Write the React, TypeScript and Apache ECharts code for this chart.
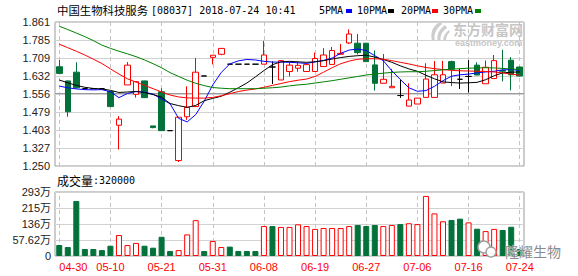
import React, { useEffect, useRef } from "react";
import * as echarts from "echarts";

const dates = [
  "04-30", "05-02", "05-03", "05-04", "05-07", "05-08", "05-10", "05-11", "05-14", "05-15",
  "05-16", "05-18", "05-21", "05-23", "05-24", "05-25", "05-28", "05-29", "05-31", "06-01",
  "06-04", "06-05", "06-06", "06-07", "06-08", "06-11", "06-12", "06-13", "06-14", "06-15",
  "06-19", "06-20", "06-21", "06-22", "06-25", "06-26", "06-27", "06-28", "06-29", "07-03",
  "07-04", "07-05", "07-06", "07-09", "07-10", "07-11", "07-12", "07-13", "07-16", "07-17",
  "07-18", "07-19", "07-20", "07-23", "07-24",
];

const opens = [
  1.671, 1.611, 1.648, 1.578, 1.578, 1.578, 1.566, 1.423, 1.594, 1.554,
  1.611, 1.420, 1.565, 1.400, 1.273, 1.459, 1.502, 1.632, 1.711, 1.724,
  1.682, 1.682, 1.682, 1.682, 1.682, 1.670, 1.615, 1.651, 1.665, 1.651,
  1.651, 1.672, 1.681, 1.724, 1.772, 1.771, 1.771, 1.679, 1.601, 1.582,
  1.549, 1.504, 1.513, 1.541, 1.541, 1.602, 1.693, 1.618, 1.630, 1.678,
  1.599, 1.621, 1.655, 1.699, 1.670,
];
const closes = [
  1.643, 1.480, 1.582, 1.578, 1.578, 1.578, 1.502, 1.449, 1.678, 1.608,
  1.540, 1.413, 1.400, 1.400, 1.457, 1.499, 1.648, 1.632, 1.720, 1.749,
  1.682, 1.682, 1.682, 1.682, 1.721, 1.670, 1.697, 1.678, 1.677, 1.680,
  1.706, 1.721, 1.740, 1.728, 1.810, 1.731, 1.693, 1.601, 1.618, 1.588,
  1.549, 1.530, 1.538, 1.619, 1.637, 1.637, 1.661, 1.618, 1.630, 1.636,
  1.669, 1.697, 1.652, 1.637, 1.632,
];
const lows = [
  1.643, 1.459, 1.578, 1.578, 1.578, 1.578, 1.502, 1.320, 1.594, 1.540,
  1.540, 1.410, 1.400, 1.400, 1.267, 1.446, 1.500, 1.632, 1.681, 1.720,
  1.682, 1.682, 1.682, 1.682, 1.682, 1.598, 1.615, 1.630, 1.650, 1.651,
  1.651, 1.672, 1.681, 1.724, 1.768, 1.723, 1.693, 1.570, 1.601, 1.582,
  1.539, 1.504, 1.513, 1.541, 1.541, 1.602, 1.589, 1.577, 1.562, 1.636,
  1.599, 1.621, 1.609, 1.571, 1.630,
];
const highs = [
  1.700, 1.612, 1.690, 1.578, 1.578, 1.578, 1.568, 1.462, 1.691, 1.610,
  1.612, 1.420, 1.580, 1.400, 1.457, 1.588, 1.708, 1.632, 1.720, 1.749,
  1.682, 1.682, 1.682, 1.682, 1.781, 1.694, 1.699, 1.692, 1.690, 1.685,
  1.731, 1.750, 1.755, 1.768, 1.830, 1.810, 1.772, 1.740, 1.725, 1.662,
  1.617, 1.601, 1.538, 1.686, 1.695, 1.696, 1.697, 1.662, 1.699, 1.690,
  1.698, 1.721, 1.743, 1.712, 1.672,
];

const ma5 = [
  1.589, 1.582, 1.577, 1.574, 1.573, 1.574, 1.565, 1.540, 1.558, 1.566,
  1.563, 1.555, 1.534, 1.514, 1.452, 1.437, 1.468, 1.525, 1.594, 1.647,
  1.683, 1.696, 1.702, 1.700, 1.694, 1.691, 1.691, 1.690, 1.688, 1.685,
  1.692, 1.698, 1.708, 1.728, 1.742, 1.746, 1.740, 1.718, 1.697, 1.654,
  1.617, 1.582, 1.567, 1.570, 1.588, 1.612, 1.631, 1.637, 1.640, 1.645,
  1.649, 1.652, 1.658, 1.659, 1.656,
];
const ma10 = [
  1.615, 1.603, 1.592, 1.584, 1.579, 1.577, 1.571, 1.562, 1.564, 1.566,
  1.562, 1.553, 1.542, 1.515, 1.506, 1.499, 1.507, 1.527, 1.537, 1.546,
  1.563, 1.582, 1.602, 1.628, 1.655, 1.680, 1.692, 1.694, 1.692, 1.690,
  1.692, 1.697, 1.704, 1.710, 1.715, 1.718, 1.720, 1.712, 1.702, 1.690,
  1.675, 1.662, 1.652, 1.635, 1.620, 1.607, 1.604, 1.602, 1.603, 1.605,
  1.616, 1.633, 1.645, 1.648, 1.649,
];
const ma20 = [
  1.767, 1.752, 1.737, 1.721, 1.703, 1.685, 1.662, 1.640, 1.620, 1.606,
  1.592, 1.578, 1.564, 1.551, 1.543, 1.539, 1.538, 1.538, 1.541, 1.548,
  1.557, 1.566, 1.572, 1.577, 1.584, 1.592, 1.600, 1.608, 1.614, 1.619,
  1.630, 1.648, 1.667, 1.684, 1.695, 1.703, 1.705, 1.705, 1.703, 1.697,
  1.690, 1.683, 1.675, 1.668, 1.663, 1.659, 1.656, 1.654, 1.653, 1.652,
  1.651, 1.649, 1.645, 1.640, 1.635,
];
const ma30 = [
  1.843, 1.829, 1.814, 1.799, 1.782, 1.763, 1.749, 1.737, 1.726, 1.714,
  1.700, 1.684, 1.667, 1.646, 1.630, 1.614, 1.601, 1.591, 1.583, 1.580,
  1.578, 1.578, 1.578, 1.578, 1.580, 1.582, 1.585, 1.590, 1.594, 1.597,
  1.602, 1.607, 1.612, 1.618, 1.624, 1.630, 1.636, 1.640, 1.644, 1.647,
  1.649, 1.650, 1.650, 1.652, 1.655, 1.658, 1.661, 1.663, 1.665, 1.666,
  1.667, 1.666, 1.664, 1.662, 1.659,
];

// volume in 万
const volumes = [
  50.4, 41, 252, 32, 32, 27, 47, 96, 50, 60,
  47, 38, 88, 23, 27, 99, 164, 23, 69, 41,
  43, 23, 23, 23, 137, 137, 133, 133, 145, 137,
  124, 128, 128, 128, 137, 142, 137, 142, 137, 142,
  146, 150, 146, 275, 195, 159, 165, 171, 154, 125,
  114, 124, 119, 134, 32,
];

const priceMin = 1.25;
const priceMax = 1.861;
const priceTicks = ["1.250", "1.327", "1.403", "1.479", "1.556", "1.632", "1.709", "1.785", "1.861"];
const volMax = 293;
const volTicks = ["0", "57.62万", "136万", "215万", "293万"];
const refPrice = 1.556;
const labelDates = ["04-30", "05-10", "05-21", "05-31", "06-08", "06-19", "06-27", "07-06", "07-16", "07-24"];

const titleName = "中国生物科技服务";
const titleInfo = "[08037] 2018-07-24 10:41";
const legendNames = ["5PMA", "10PMA", "20PMA", "30PMA"];
const volumeText = "成交量";
const volumeValue = ":320000";

const RED = "#ff0000";
const GREEN = "#03723a";
const maColors = ["#0000ff", "#000000", "#ff0000", "#008000"];

const LOGO_D =
  "M12 0 C5 3 1 9 3 18 L6 18 C5 11 8 6 14 2 Z M17 3 C11 7 8 12 9 18 L12 18 C12 13 14 9 19 6 Z M21 8 C17 11 15 14 15 18 L18 18 C18 15 19 12 22 10 Z";

let registered = false;
function ensureShape() {
  if (registered) return;
  registered = true;
  echarts.graphic.registerShape("emlogo", echarts.graphic.extendPath(LOGO_D, {}) as any);
}

export default function App() {
  const ref = useRef<HTMLDivElement>(null);

  useEffect(() => {
    if (!ref.current) return;
    ensureShape();
    const chart = echarts.init(ref.current, undefined, { renderer: "svg" });

    const candleData = dates.map((_, i) => {
      const o = opens[i], c = closes[i];
      const item: any = { value: [o, c, lows[i], highs[i]] };
      if (o === c) {
        item.itemStyle = { color: "#000", color0: "#000", borderColor: "#000", borderColor0: "#000" };
      }
      return item;
    });

    const volData = volumes.map((v, i) => {
      const o = opens[i], c = closes[i];
      let up: boolean;
      if (c > o) up = true;
      else if (c < o) up = false;
      else up = i > 0 ? c > closes[i - 1] : false;
      return {
        value: v,
        itemStyle: up
          ? { color: "#ffffff", borderColor: RED, borderWidth: 1 }
          : { color: GREEN, borderColor: GREEN, borderWidth: 1 },
      };
    });

    const vLines = labelDates.map((d) => ({ xAxis: d }));
    const dashStyle = { color: "#c4c4c4", type: [4, 3] as any, width: 1 };
    const labelFont = "'Liberation Sans', 'Noto Sans CJK SC', sans-serif";
    const monoFont = "'DejaVu Sans Mono', 'Liberation Mono', monospace";
    const cjkFont = "'Noto Sans CJK SC', sans-serif";

    const legendXs = [319, 357, 401, 443];
    const legendRectXs = [346, 388, 432, 475];

    const graphics: any[] = [
      {
        type: "text", x: 57, y: 10,
        style: { text: titleName, font: `11.4px ${cjkFont}`, fill: "#000", verticalAlign: "middle" },
      },
      {
        type: "text", x: 151, y: 10,
        style: { text: titleInfo, font: `10px ${monoFont}`, fill: "#000", verticalAlign: "middle" },
      },
      {
        type: "text", x: 57, y: 180,
        style: { text: volumeText, font: `12px ${cjkFont}`, fill: "#000", verticalAlign: "middle" },
      },
      {
        type: "text", x: 93, y: 180,
        style: { text: volumeValue, font: `10px ${monoFont}`, fill: "#000", verticalAlign: "middle" },
      },
      {
        type: "emlogo", x: 429, y: 22, scaleX: 0.95, scaleY: 1.0,
        style: { fill: "#cdcdcd" }, silent: true,
      },
      {
        type: "text", x: 453, y: 29,
        style: { text: "东方财富网", font: `bold 14px ${cjkFont}`, fill: "#c6c6c6", verticalAlign: "middle" },
        silent: true,
      },
      {
        type: "text", x: 455, y: 42.5,
        style: { text: "eastmoney.com", font: `bold 9px 'Liberation Sans', sans-serif`, fill: "#c6c6c6", verticalAlign: "middle" },
        silent: true,
      },
      {
        type: "circle", shape: { cx: 484, cy: 247, r: 6 },
        style: { fill: "#ffffff", stroke: "#a0a0a0", lineWidth: 1.5 }, z: 50, silent: true,
      },
      {
        type: "circle", shape: { cx: 491, cy: 252, r: 5 },
        style: { fill: "#ffffff", stroke: "#a0a0a0", lineWidth: 1.5 }, z: 51, silent: true,
      },
      {
        type: "text", x: 505, y: 251, z: 52,
        style: { text: "隆耀生物", font: `14px ${cjkFont}`, fill: "#8a8a8a", verticalAlign: "middle", stroke: "#ffffff", lineWidth: 0.5 },
        silent: true,
      },
    ];
    legendNames.forEach((n, k) => {
      graphics.push({
        type: "text", x: legendXs[k], y: 10,
        style: { text: n, font: `10px ${monoFont}`, fill: "#000", verticalAlign: "middle" },
      });
      graphics.push({
        type: "rect", shape: { x: legendRectXs[k], y: 9, width: 6, height: 4 },
        style: { fill: maColors[k] },
      });
    });

    const maList = [ma5, ma10, ma20, ma30];

    chart.setOption({
      animation: false,
      backgroundColor: "#ffffff",
      grid: [
        { left: 55, top: 22, width: 469, height: 144, show: true, borderColor: "#9a9a9a", borderWidth: 1, backgroundColor: "transparent" },
        { left: 55, top: 192, width: 469, height: 64, show: true, borderColor: "#9a9a9a", borderWidth: 1, backgroundColor: "transparent" },
      ],
      xAxis: [
        {
          type: "category", gridIndex: 0, data: dates, boundaryGap: true,
          axisLabel: { show: false }, axisTick: { show: false }, axisLine: { show: false }, splitLine: { show: false },
        },
        {
          type: "category", gridIndex: 1, data: dates, boundaryGap: true,
          axisTick: { show: false }, axisLine: { show: false }, splitLine: { show: false },
          axisLabel: {
            interval: (_i: number, v: string) => labelDates.includes(v),
            color: RED, fontSize: 11, fontFamily: labelFont, margin: 5,
            alignMinLabel: "left",
            showMinLabel: true, showMaxLabel: true,
          },
        },
      ],
      yAxis: [
        {
          type: "value", gridIndex: 0, min: priceMin, max: priceMax, interval: (priceMax - priceMin) / 8,
          axisLine: { show: false }, axisTick: { show: false },
          splitLine: { show: true, lineStyle: { color: "#d2d2d2", width: 1 } },
          axisLabel: {
            color: "#222", fontSize: 11, fontFamily: labelFont, margin: 5,
            formatter: (v: number) => priceTicks[Math.round((v - priceMin) / ((priceMax - priceMin) / 8))] ?? "",
          },
        },
        {
          type: "value", gridIndex: 1, min: 0, max: volMax, interval: volMax / 4,
          axisLine: { show: false }, axisTick: { show: false },
          splitLine: { show: true, lineStyle: { color: "#d2d2d2", width: 1 } },
          axisLabel: {
            color: "#222", fontSize: 11, fontFamily: labelFont, margin: 4,
            formatter: (v: number) => volTicks[Math.round(v / (volMax / 4))] ?? "",
          },
        },
      ],
      series: [
        {
          type: "candlestick", xAxisIndex: 0, yAxisIndex: 0, data: candleData, barWidth: 6,
          itemStyle: { color: "#ffffff", color0: GREEN, borderColor: RED, borderColor0: GREEN, borderWidth: 1 },
          emphasis: { disabled: true },
          markLine: {
            silent: true, z: 1, symbol: ["none", "none"], label: { show: false }, animation: false,
            lineStyle: dashStyle,
            emphasis: { disabled: true },
            data: [
              ...vLines,
              { yAxis: refPrice, lineStyle: { color: "#9a9a9a", type: "solid", width: 1 } },
            ],
          },
        },
        ...maList.map((m, k) => ({
          type: "line", xAxisIndex: 0, yAxisIndex: 0, data: m, symbol: "none", showSymbol: false,
          lineStyle: { color: maColors[k], width: 1 }, itemStyle: { color: maColors[k] },
          emphasis: { disabled: true }, silent: true, z: 3,
        })),
        {
          type: "bar", xAxisIndex: 1, yAxisIndex: 1, data: volData, barWidth: 6,
          emphasis: { disabled: true },
          markLine: {
            silent: true, z: 1, symbol: ["none", "none"], label: { show: false }, animation: false,
            lineStyle: dashStyle, emphasis: { disabled: true },
            data: vLines,
          },
        },
      ],
      graphic: graphics,
    });

    return () => chart.dispose();
  }, []);

  return (
    <div
      ref={ref}
      style={{ position: "absolute", left: 0, top: 0, width: 578, height: 276, background: "#fff" }}
    />
  );
}
